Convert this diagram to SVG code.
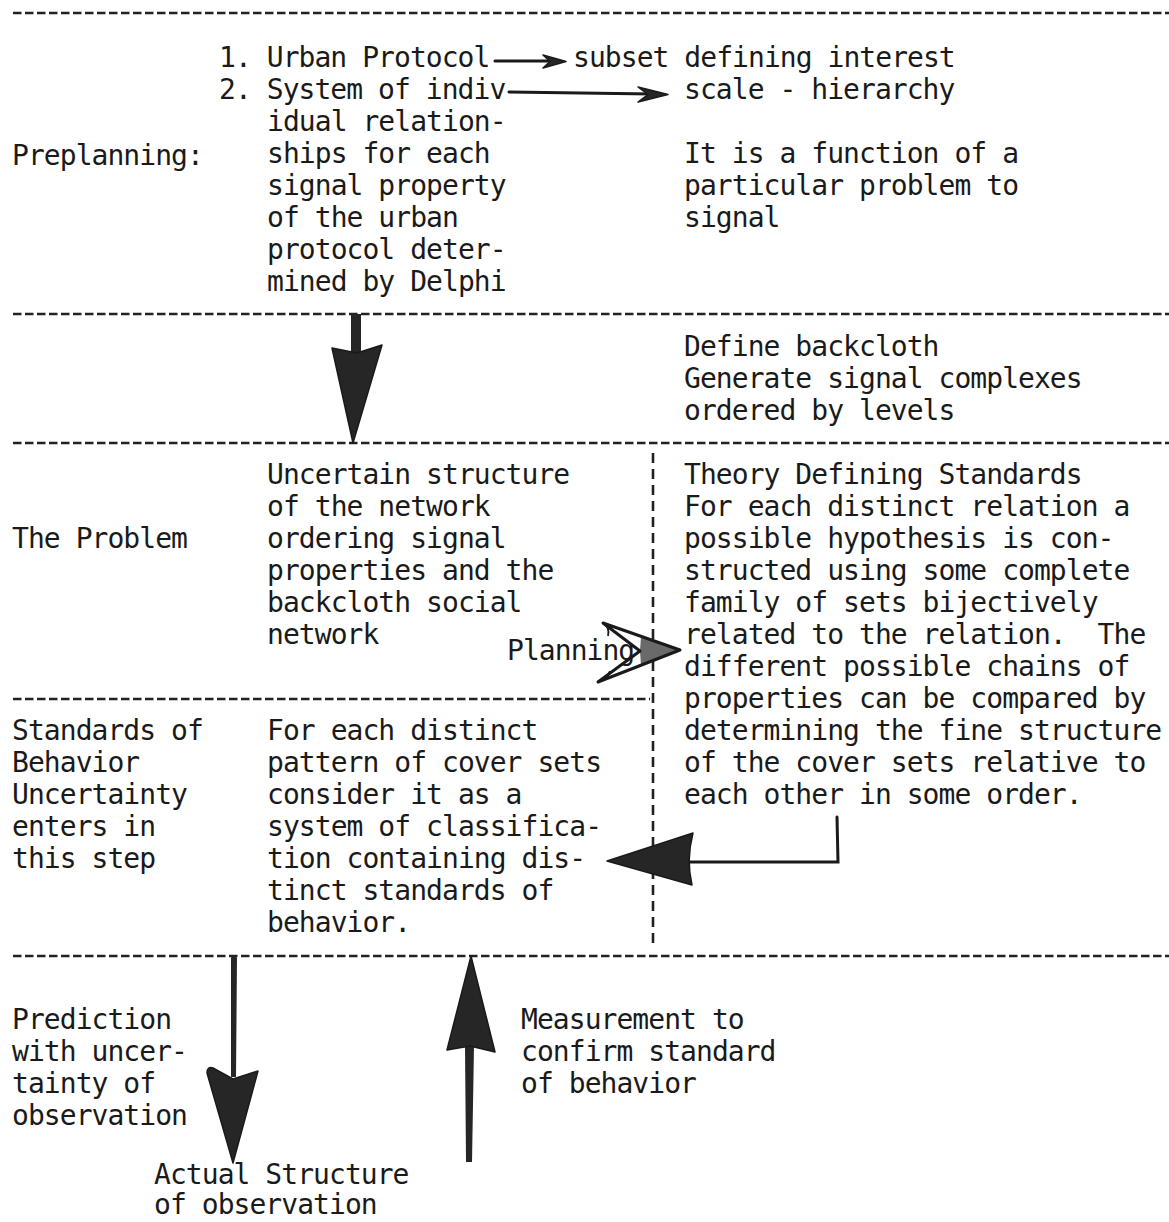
<svg xmlns="http://www.w3.org/2000/svg" width="1169" height="1222" viewBox="0 0 1169 1222">
<style>
.t{font-family:"DejaVu Sans Mono","Liberation Mono",monospace;font-size:28px;letter-spacing:-0.95px;fill:#1a1a1a}
.sep{stroke:#222;stroke-width:2.6;stroke-dasharray:8.5 3.5;fill:none}
.vsep{stroke:#222;stroke-width:2.6;stroke-dasharray:10 6;fill:none}
.ln{stroke:#1a1a1a;stroke-width:3;fill:none;stroke-linecap:round}
.ah{fill:#262626;stroke:#1a1a1a;stroke-width:1.5;stroke-linejoin:round}
</style>
<rect width="1169" height="1222" fill="#ffffff"/>
<g id="separators">
<line class="sep" x1="13" y1="13" x2="1169" y2="13"/>
<line class="sep" x1="13" y1="314" x2="1169" y2="314"/>
<line class="sep" x1="13" y1="443" x2="1169" y2="443"/>
<line class="sep" x1="13" y1="699" x2="650" y2="699"/>
<line class="sep" x1="13" y1="956" x2="1169" y2="956"/>
<line class="vsep" x1="653" y1="453" x2="653" y2="947"/>
</g>
<g id="preplanning">
<text class="t" x="12" y="165">Preplanning:</text>
<text class="t" x="219" y="67">1. Urban Protocol</text>
<text class="t" x="219" y="99">2. System of indiv</text>
<text class="t" x="267" y="131">idual relation-</text>
<text class="t" x="267" y="163">ships for each</text>
<text class="t" x="267" y="195">signal property</text>
<text class="t" x="267" y="227">of the urban</text>
<text class="t" x="267" y="259">protocol deter-</text>
<text class="t" x="267" y="291">mined by Delphi</text>
</g>
<g id="interest-scale">
<text class="t" x="573" y="67">subset defining interest</text>
<text class="t" x="684" y="99">scale - hierarchy</text>
<text class="t" x="684" y="163">It is a function of a</text>
<text class="t" x="684" y="195">particular problem to</text>
<text class="t" x="684" y="227">signal</text>
</g>
<g id="backcloth">
<text class="t" x="684" y="356">Define backcloth</text>
<text class="t" x="684" y="388">Generate signal complexes</text>
<text class="t" x="684" y="420">ordered by levels</text>
</g>
<g id="problem">
<text class="t" x="12" y="548">The Problem</text>
<text class="t" x="267" y="484">Uncertain structure</text>
<text class="t" x="267" y="516">of the network</text>
<text class="t" x="267" y="548">ordering signal</text>
<text class="t" x="267" y="580">properties and the</text>
<text class="t" x="267" y="612">backcloth social</text>
<text class="t" x="267" y="644">network</text>
</g>
<g id="theory">
<text class="t" x="684" y="484">Theory Defining Standards</text>
<text class="t" x="684" y="516">For each distinct relation a</text>
<text class="t" x="684" y="548">possible hypothesis is con-</text>
<text class="t" x="684" y="580">structed using some complete</text>
<text class="t" x="684" y="612">family of sets bijectively</text>
<text class="t" x="684" y="644" xml:space="preserve">related to the relation.  The</text>
<text class="t" x="684" y="676">different possible chains of</text>
<text class="t" x="684" y="708">properties can be compared by</text>
<text class="t" x="684" y="740">determining the fine structure</text>
<text class="t" x="684" y="772">of the cover sets relative to</text>
<text class="t" x="684" y="804">each other in some order.</text>
</g>
<g id="standards">
<text class="t" x="12" y="740">Standards of</text>
<text class="t" x="12" y="772">Behavior</text>
<text class="t" x="12" y="804">Uncertainty</text>
<text class="t" x="12" y="836">enters in</text>
<text class="t" x="12" y="868">this step</text>
<text class="t" x="267" y="740">For each distinct</text>
<text class="t" x="267" y="772">pattern of cover sets</text>
<text class="t" x="267" y="804">consider it as a</text>
<text class="t" x="267" y="836">system of classifica-</text>
<text class="t" x="267" y="868">tion containing dis-</text>
<text class="t" x="267" y="900">tinct standards of</text>
<text class="t" x="267" y="932">behavior.</text>
</g>
<g id="prediction">
<text class="t" x="12" y="1029">Prediction</text>
<text class="t" x="12" y="1061">with uncer-</text>
<text class="t" x="12" y="1093">tainty of</text>
<text class="t" x="12" y="1125">observation</text>
</g>
<g id="measurement">
<text class="t" x="521" y="1029">Measurement to</text>
<text class="t" x="521" y="1061">confirm standard</text>
<text class="t" x="521" y="1093">of behavior</text>
</g>
<g id="actual">
<text class="t" x="154" y="1184">Actual Structure</text>
<text class="t" x="154" y="1214">of observation</text>
</g>
<g id="connectors">
<line class="ln" x1="495" y1="61" x2="556" y2="61" stroke-width="2.2"/>
<path class="ah" d="M543,55 L566,61.5 L543,68 L550,61.5 Z"/>
<line class="ln" x1="509" y1="92" x2="652" y2="94" stroke-width="2.4"/>
<path class="ah" d="M638,87 L668,94.5 L638,102 L648,94.5 Z"/>
<rect x="351" y="314" width="10" height="40" fill="#262626"/>
<path class="ah" d="M332,348 L357,353 L382,345 L353,443 Z"/>
<text class="t" x="507" y="660">Planning</text>
<path d="M641,636.3 L680,650 L641,665.2 L640,651 Z" fill="#6a6a6a"/>
<path d="M603,623 L680,650 L598,682 L640,651 Z" fill="none" stroke="#1a1a1a" stroke-width="3" stroke-linejoin="round"/>
<path d="M604,624 Q610,628 608,636" fill="none" stroke="#1a1a1a" stroke-width="1.8"/>
<path d="M599,681 Q607,679 610,671" fill="none" stroke="#1a1a1a" stroke-width="1.8"/>
<path class="ln" d="M837,817 L838,862 L688,862"/>
<path class="ah" d="M607,861 L693,833 Q686,860 692,885 Z"/>
<path d="M231,958 Q232,955 235,955 L237,958 L236,1077 L231,1077 Z" fill="#262626"/>
<path class="ah" d="M207,1073 Q207,1066 213,1068 L233,1079 L258,1071 L233,1163 Z"/>
<path d="M465,1046 L474,1046 L472,1162 L466,1162 Z" fill="#262626"/>
<path class="ah" d="M471,956 L495,1052 L470,1046 L447,1050 Z"/>
</g>
</svg>
